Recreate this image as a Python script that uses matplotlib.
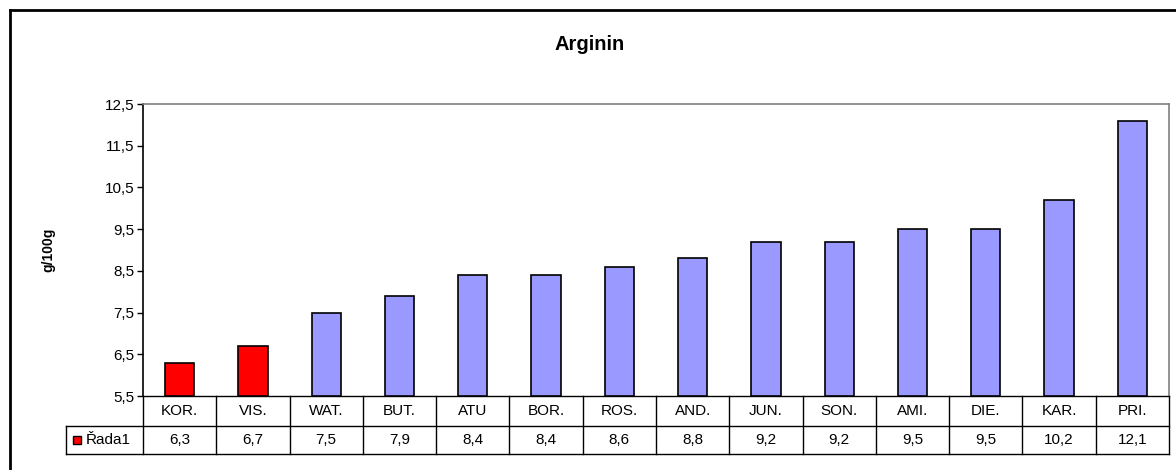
import numpy as np
import matplotlib
matplotlib.use("Agg")
import matplotlib.pyplot as plt
from matplotlib.lines import Line2D
from matplotlib.patches import Rectangle

plt.rcParams['font.family'] = ['Liberation Sans', 'DejaVu Sans']

kategorie = ['KOR.', 'VIS.', 'WAT.', 'BUT.', 'ATU', 'BOR.', 'ROS.',
             'AND.', 'JUN.', 'SON.', 'AMI.', 'DIE.', 'KAR.', 'PRI.']
hodnoty = [6.3, 6.7, 7.5, 7.9, 8.4, 8.4, 8.6, 8.8, 9.2, 9.2, 9.5, 9.5, 10.2, 12.1]
zvyraznene = ['KOR.', 'VIS.']
yticks = [5.5, 6.5, 7.5, 8.5, 9.5, 10.5, 11.5, 12.5]
nazev_rady = 'Řada1'

W, H = 1176, 470
fig = plt.figure(figsize=(W / 100, H / 100), dpi=100)

# outer chart frame (only top and left edges are in view)
fig.add_artist(Line2D([10 / W, 10 / W], [0, 1 - 10 / H], color='black', lw=2))
fig.add_artist(Line2D([10 / W, 1], [1 - 10 / H, 1 - 10 / H], color='black', lw=2))

x0, x1, ytop, ybot = 143, 1169, 104, 396
ax = fig.add_axes([x0 / W, 1 - ybot / H, (x1 - x0) / W, (ybot - ytop) / H])

x = np.arange(len(kategorie))
barvy = ['#FF0000' if k in zvyraznene else '#9999FF' for k in kategorie]
ax.bar(x, [v - yticks[0] for v in hodnoty], bottom=yticks[0], width=0.4,
       color=barvy, edgecolor='black', linewidth=1.2, zorder=3)

ax.set_xlim(-0.5, len(kategorie) - 0.5)
ax.set_ylim(yticks[0], yticks[-1])
ax.set_yticks(yticks)
ax.set_yticklabels([f'{t:.1f}'.replace('.', ',') for t in yticks], fontsize=11)
ax.set_xticks([])
ax.tick_params(axis='y', length=4, width=1, pad=2)
for s in ['top', 'right']:
    ax.spines[s].set_color('#808080')
    ax.spines[s].set_linewidth(1.2)
ax.spines['left'].set_linewidth(1.2)
ax.spines['bottom'].set_linewidth(1.0)

fig.text(590 / W, 1 - 45 / H, 'Arginin', fontsize=14.5, fontweight='bold',
         ha='center', va='center')
fig.text(48 / W, 1 - 250 / H, 'g/100g', rotation=90, fontsize=10,
         fontweight='bold', ha='center', va='center')

# data table under the axis
ah = ybot - ytop
aw = x1 - x0
r1 = -30 / ah
r2 = -58 / ah
lx = (66 - x0) / aw
tr = ax.transAxes
for i in range(len(kategorie) + 1):
    xa = i / len(kategorie)
    ax.add_line(Line2D([xa, xa], [0, r2], transform=tr, color='black', lw=1, clip_on=False))
ax.add_line(Line2D([lx, 1], [r1, r1], transform=tr, color='black', lw=1, clip_on=False))
ax.add_line(Line2D([lx, 1], [r2, r2], transform=tr, color='black', lw=1, clip_on=False))
ax.add_line(Line2D([lx, lx], [r1, r2], transform=tr, color='black', lw=1, clip_on=False))

for i, (k, v) in enumerate(zip(kategorie, hodnoty)):
    xa = (i + 0.5) / len(kategorie)
    ax.text(xa, r1 / 2, k, transform=tr, ha='center', va='center', fontsize=11)
    ax.text(xa, (r1 + r2) / 2, f'{v:.1f}'.replace('.', ','), transform=tr,
            ha='center', va='center', fontsize=11)

ax.add_patch(Rectangle((lx + 7 / aw, (r1 + r2) / 2 - 4 / ah), 8 / aw, 8 / ah,
                       transform=tr, facecolor='#FF0000', edgecolor='black',
                       lw=1, clip_on=False))
ax.text(lx + 20 / aw, (r1 + r2) / 2, nazev_rady, transform=tr, ha='left',
        va='center', fontsize=11)

fig.savefig('out.png', dpi=100)
